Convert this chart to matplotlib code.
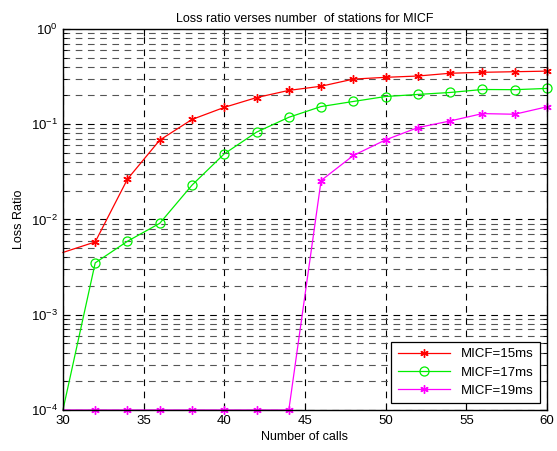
import numpy as np
import matplotlib
matplotlib.use('Agg')
import matplotlib.pyplot as plt
from matplotlib.ticker import LogLocator, NullFormatter

matplotlib.rcParams['font.family'] = ['Liberation Sans', 'DejaVu Sans']
matplotlib.rcParams['font.size'] = 9

calls = [30, 32, 34, 36, 38, 40, 42, 44, 46, 48, 50, 52, 54, 56, 58, 60]
micf15 = [4.5e-3, 5.8e-3, 0.0265, 0.068, 0.112, 0.15, 0.19, 0.226, 0.25, 0.297, 0.31, 0.32, 0.342, 0.35, 0.355, 0.36]
micf17 = [1e-4, 3.5e-3, 5.9e-3, 9.1e-3, 0.0229, 0.0488, 0.0824, 0.118, 0.153, 0.173, 0.195, 0.205, 0.215, 0.231, 0.23, 0.237]
micf19 = [1e-4, 1e-4, 1e-4, 1e-4, 1e-4, 1e-4, 1e-4, 1e-4, 0.0256, 0.0469, 0.0684, 0.092, 0.108, 0.129, 0.127, 0.152]

fig = plt.figure(figsize=(5.57, 4.51), dpi=100)
ax1 = fig.add_axes([0.113, 0.091, 0.869, 0.845])

star = (6, 2, 0)
# first point (x=30) has no visible marker in the original
ax1.plot(calls, micf15, color='red', linewidth=0.9, marker=star, markersize=6, markeredgewidth=1.0,
         markevery=slice(1, None), label='MICF=15ms', clip_on=False, zorder=3)
ax1.plot(calls, micf17, color='#00ee00', linewidth=0.9, marker='o', markersize=6.5, markerfacecolor='none',
         markeredgewidth=0.9, markevery=slice(1, None), label='MICF=17ms', clip_on=False, zorder=3)
ax1.plot(calls, micf19, color='magenta', linewidth=0.9, marker=star, markersize=6, markeredgewidth=1.0,
         markevery=slice(1, None), label='MICF=19ms', clip_on=False, zorder=3)

ax1.set_yscale('log')
ax1.set_xlim(30, 60)
ax1.set_ylim(1e-4, 1)
ax1.set_xticks(range(30, 61, 5))
ax1.yaxis.set_major_locator(LogLocator(base=10, numticks=10))
ax1.yaxis.set_minor_locator(LogLocator(base=10, subs=np.arange(2, 10), numticks=10))
ax1.yaxis.set_minor_formatter(NullFormatter())

ax1.tick_params(which='both', direction='in', top=True, right=True, labelsize=9.5)
ax1.tick_params(which='major', length=5)
ax1.tick_params(which='minor', length=3)

ax1.grid(True, which='major', color='black', linestyle=(0, (6, 5)), linewidth=0.8)
ax1.grid(True, which='minor', axis='y', color='#555555', linestyle=(0, (6, 5)), linewidth=0.8)
ax1.set_axisbelow(True)
for s in ax1.spines.values():
    s.set_linewidth(1.0)
    s.set_zorder(4)

ax1.set_title('Loss ratio verses number  of stations for MICF', fontsize=9, pad=5)
ax1.set_xlabel('Number of calls', fontsize=9, labelpad=3)
ax1.set_ylabel('Loss Ratio', fontsize=9, labelpad=4)

leg = ax1.legend(loc='lower right', fontsize=9.5, fancybox=False, framealpha=1, edgecolor='black',
                 borderaxespad=0.5, handlelength=4, labelspacing=0.45, borderpad=0.5)
leg.get_frame().set_linewidth(0.9)
leg.set_zorder(5)

plt.savefig('out.png', dpi=100)
